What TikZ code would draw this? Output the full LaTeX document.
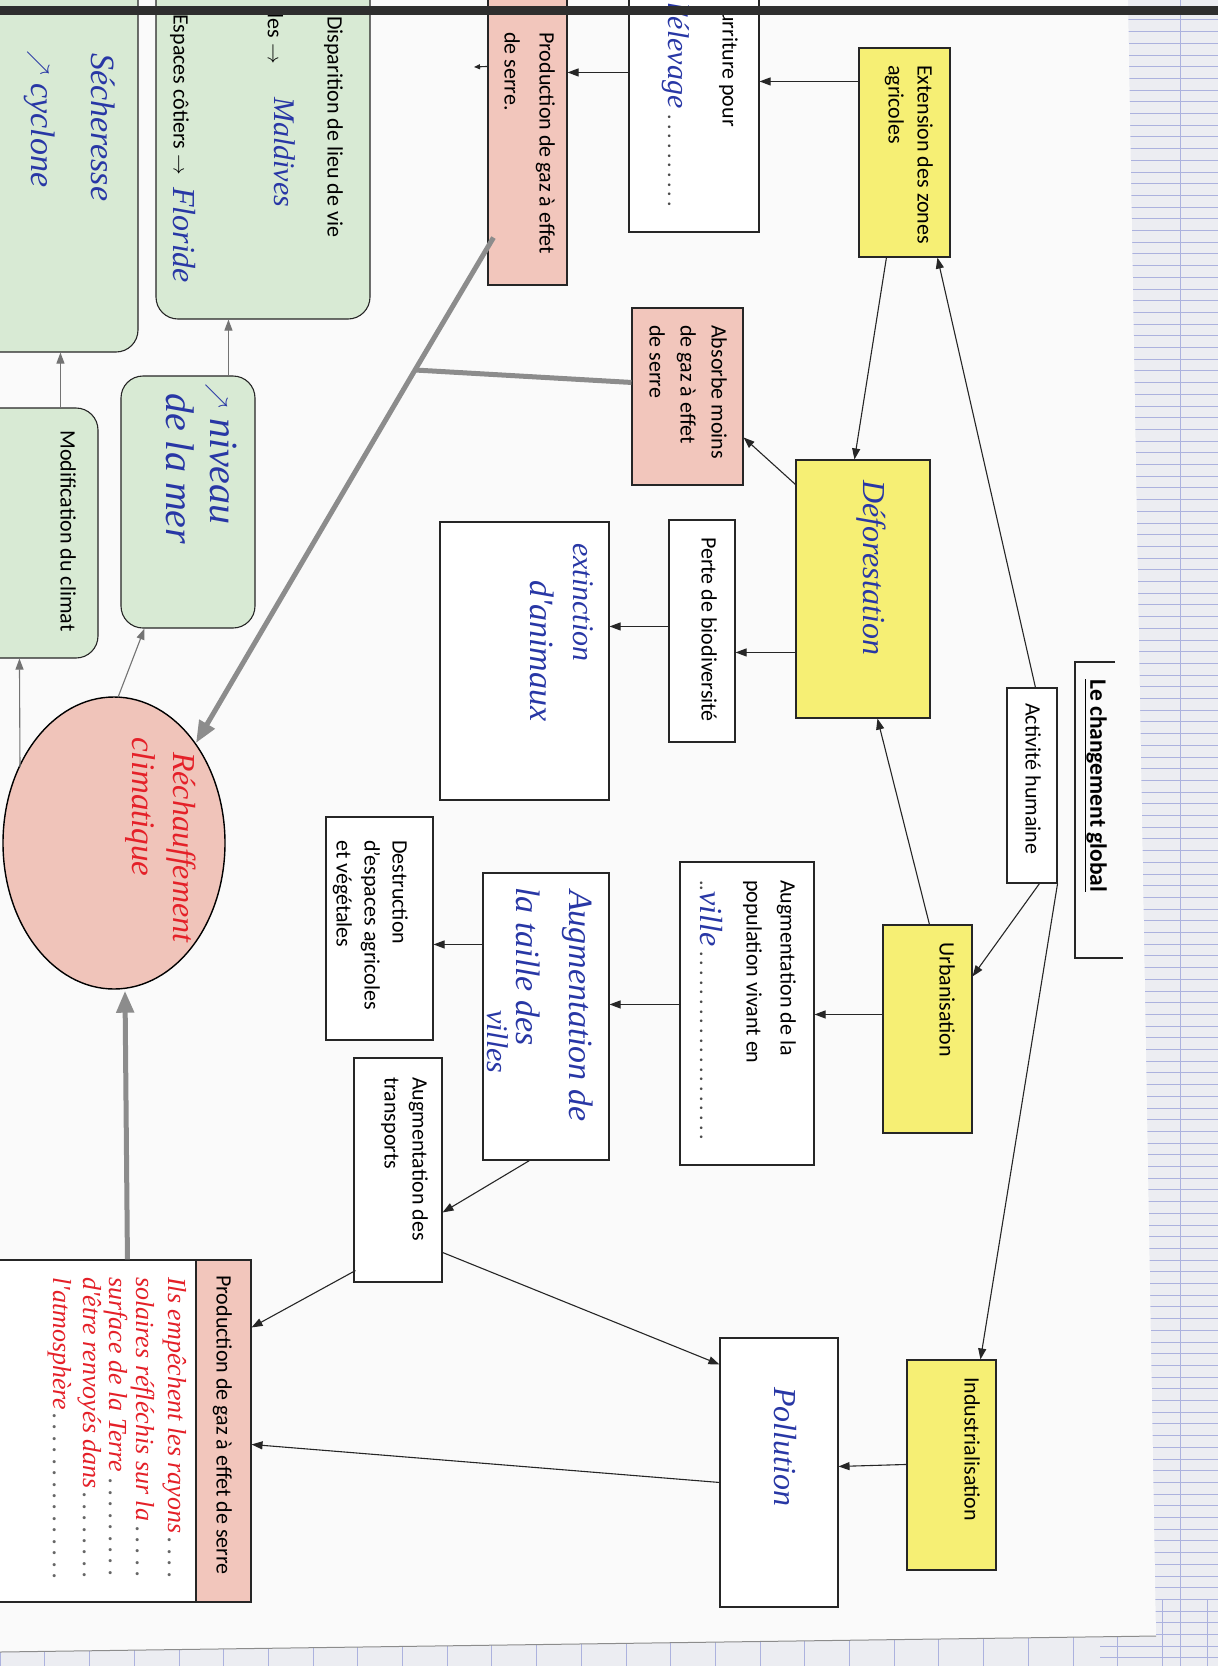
\documentclass[tikz,border=0pt]{standalone}
\usepackage{fontspec}
\setmainfont{Carlito}
\newfontfamily\handfont{Liberation Serif}
\usetikzlibrary{arrows.meta,calc,shapes.geometric}
\definecolor{cyel}{RGB}{246,239,116}
\definecolor{cpink}{RGB}{242,198,188}
\definecolor{cgreen}{RGB}{216,234,212}
\definecolor{cell}{RGB}{240,196,186}
\definecolor{cblue}{RGB}{40,55,165}
\definecolor{cred}{RGB}{228,32,40}
\definecolor{cthick}{RGB}{140,140,140}
\definecolor{cgrid}{RGB}{172,178,222}
\definecolor{cpaper}{RGB}{250,250,250}
\definecolor{cunder}{RGB}{236,237,242}
\tikzset{
  box/.style={draw=black!85, line width=1.1pt, rectangle, inner sep=0pt},
  ybox/.style={box, fill=cyel},
  pbox/.style={box, fill=cpink},
  gbox/.style={box, fill=cgreen, rounded corners=22pt},
  txt/.style={anchor=north west, rotate=-90, inner sep=0pt, align=left, font=\fontsize{22}{30}\selectfont},
  ln/.style={rotate=-90, inner sep=0pt, font=\fontsize{22}{30}\selectfont},
  hw/.style={rotate=-90, inner sep=0pt, anchor=west, text=cblue, font=\handfont\itshape\fontsize{#1}{#1}\selectfont},
  hw/.default=32,
  arr/.style={-{Triangle[length=11pt,width=8pt]}, line width=1.1pt, draw=black!85},
  garr/.style={-{Triangle[length=11pt,width=8pt]}, line width=1.1pt, draw=black!55},
  gline/.style={line width=5pt, draw=cthick},
}
\begin{document}
\begin{tikzpicture}[x=1pt,y=-1pt]
\clip (0,0) rectangle (1218,1666);
% background: notebook page under the sheet
\fill[cunder] (0,0) rectangle (1218,1666);
\foreach \k in {0,...,142} \draw[cgrid, line width=0.6pt] (1100,{8+\k*11.7}) -- (1218,{8+\k*11.7});
\draw[cgrid, line width=0.8pt] (1180,0) -- (1180,1666);
\foreach \k in {0,...,27} \draw[cgrid, line width=0.6pt] ({\k*44.7},1600) -- ({\k*44.7},1666);
\fill[cpaper] (0,0) -- (1128,0) -- (1156,1636) -- (0,1652) -- cycle;
\draw[black!45, line width=1pt] (1156,1636) -- (0,1652);

% boxes
\node[pbox, minimum width=79pt, minimum height=295pt] (prodtop) at (527.5,137.5) {};
\node[box, fill=white, minimum width=130pt, minimum height=242pt] (nourr) at (694,111) {};
\node[ybox, minimum width=91pt, minimum height=209pt] (ext) at (904.5,152.5) {};
\node[pbox, minimum width=111pt, minimum height=177pt] (absb) at (687.5,396.5) {};
\node[gbox, minimum width=214pt, minimum height=359pt] (disp) at (263,139.5) {};
\node[gbox, minimum width=178pt, minimum height=392pt] (sech) at (49,156) {};
\node[gbox, minimum width=134pt, minimum height=252pt] (niveau) at (188,502) {};
\node[gbox, minimum width=138pt, minimum height=250pt] (modif) at (29,533) {};
\node[draw=black, line width=1.4pt, fill=cell, ellipse, inner sep=0pt, minimum width=222pt, minimum height=292pt] (ell) at (114,843) {};
\node[box, fill=white, minimum width=169pt, minimum height=278pt] (extinct) at (524.5,661) {};
\node[box, fill=white, minimum width=66pt, minimum height=222pt] (perte) at (702,631) {};
\node[ybox, minimum width=134pt, minimum height=258pt] (defor) at (863,589) {};
\node[box, fill=white, minimum width=50pt, minimum height=195pt] (activ) at (1032,785.5) {};
\node[ybox, minimum width=89pt, minimum height=208pt] (urb) at (927.5,1029) {};
\node[box, fill=white, minimum width=134pt, minimum height=303pt] (augpop) at (747,1013.5) {};
\node[box, fill=white, minimum width=126pt, minimum height=287pt] (augvil) at (546,1016.5) {};
\node[box, fill=white, minimum width=107pt, minimum height=223pt] (destr) at (379.5,928.5) {};
\node[box, fill=white, minimum width=88pt, minimum height=224pt] (transp) at (398,1170) {};
\node[box, fill=white, minimum width=291pt, minimum height=342pt,
  path picture={\fill[cpink] ($(path picture bounding box.north east)+(-55,0)$) rectangle (path picture bounding box.south east);
  \draw[black!85, line width=1.1pt] ($(path picture bounding box.north east)+(-55,0)$) -- ($(path picture bounding box.south east)+(-55,0)$);}] (prodbot) at (105.5,1431) {};
\node[box, fill=white, minimum width=118pt, minimum height=269pt] (pollu) at (779,1472.5) {};
\node[ybox, minimum width=89pt, minimum height=210pt] (indus) at (951.5,1465) {};

% title frame
\draw[black!85, line width=1.1pt] (1115,662) -- (1075,662) -- (1075,958) -- (1123,958);

% thick grey connectors
\coordinate (jn) at (415,370);
\draw[gline, -{Triangle[length=22pt,width=17pt]}] ($(prodtop.south west)+(6,-48)$) -- (jn) -- ($(ell.center)+(82,-100)$);
\draw[gline] ($(absb.north west)+(0,75)$) -- (jn);
\draw[gline, -{Triangle[length=22pt,width=17pt]}] ($(prodbot.north west)+(168,0)$) -- ($(ell.south)+(11,1)$);

% thin connectors
\draw[arr] ($(ext.north west)+(0,34)$) -- ($(nourr.north east)+(0,92)$);
\draw[arr] ($(nourr.north west)+(0,83)$) -- ($(prodtop.north east)+(0,83)$);
\coordinate (stub) at (474,67);
\draw[arr, -{Triangle[length=6pt,width=5pt]}] ($(prodtop.north west)+(0,77)$) -- (stub);
\draw[arr] ($(ext.south west)+(28,0)$) -- ($(defor.north west)+(59,0)$);
\draw[arr] ($(activ.north west)+(29,0)$) -- ($(ext.south west)+(79,0)$);
\draw[arr] ($(defor.north west)+(0,25)$) -- ($(absb.north east)+(0,130)$);
\draw[arr] ($(defor.north west)+(0,193)$) -- ($(perte.north east)+(0,133)$);
\draw[arr] ($(perte.north west)+(0,107)$) -- ($(extinct.north east)+(0,105)$);
\draw[arr] ($(urb.north west)+(47,0)$) -- ($(defor.south west)+(82,0)$);
\draw[arr] ($(activ.south west)+(33,0)$) -- ($(urb.north east)+(0,52)$);
\draw[arr] (activ.south east) -- ($(indus.north west)+(74,0)$);
\draw[arr] ($(urb.north west)+(0,90)$) -- ($(augpop.north east)+(0,153)$);
\draw[arr] ($(augpop.north west)+(0,143)$) -- ($(augvil.north east)+(0,132)$);
\draw[arr] ($(augvil.north west)+(0,72)$) -- ($(destr.north east)+(0,128)$);
\draw[arr] ($(augvil.south west)+(47,0)$) -- ($(transp.north east)+(0,155)$);
\draw[arr] ($(transp.north east)+(0,195)$) -- ($(pollu.north west)+(0,27)$);
\draw[arr] ($(transp.south west)+(2,-12)$) -- ($(prodbot.north east)+(0,68)$);
\draw[arr] ($(indus.north west)+(0,105)$) -- ($(pollu.north east)+(0,129)$);
\draw[arr] ($(pollu.north west)+(0,145)$) -- ($(prodbot.north east)+(0,185)$);
\draw[garr] ($(ell.north)+(4,1)$) -- ($(niveau.south west)+(24,0)$);
\draw[garr] ($(niveau.north west)+(108,0)$) -- ($(disp.south west)+(73,0)$);
\draw[garr] ($(modif.north west)+(101,0)$) -- ($(sech.south west)+(101,0)$);
\draw[garr] ($(ell.center)+(-94,-76)$) -- ($(modif.south west)+(60,0)$);

% printed texts
\node[txt, font=\fontsize{22}{35}\selectfont] (tprodtop) at (555,32) {Production de gaz à effet\\de serre.};
\node[txt] (tnourr) at (738,10) {urriture pour};
\node[ln, anchor=base west] (tnourr2) at (668,2) {\makebox[211pt][l]{{\color{cblue}\handfont\itshape\fontsize{30}{30}\selectfont l'élevage}\color{black!70}\dotfill}};
\node[txt, font=\fontsize{22}{29}\selectfont] (text) at (933,65) {Extension des zones\\agricoles};
\node[txt, font=\fontsize{22}{31}\selectfont] (tabsb) at (727,325) {Absorbe moins\\de gaz à effet\\de serre};
\node[txt] (tdisp1) at (343,16) {Disparition de lieu de vie};
\node[txt] (tdisp2) at (286,8) {Îles $\rightarrow$};
\node[txt] (tdisp3) at (189,14) {Espaces côtiers $\rightarrow$};
\node[txt] (tmodif) at (76,430) {Modification du climat};
\node[txt] (tperte) at (717,537) {Perte de biodiversité};
\node[txt] (tactiv) at (1041,703) {Activité humaine};
\node[txt, font=\bfseries\fontsize{23.5}{28}\selectfont] (ttitle) at (1107,679) {\underline{Le changement global}};
\node[txt] (turb) at (955,942) {Urbanisation};
\node[txt, font=\fontsize{22}{34}\selectfont] (taugpop) at (796,880) {Augmentation de la\\population vivant en};
\node[ln, anchor=base west] (tville) at (700,880) {\makebox[265pt][l]{\color{black!70}..{\color{cblue}\handfont\itshape\fontsize{32}{32}\selectfont ville}\dotfill}};
\node[txt, font=\fontsize{22}{28}\selectfont] (tdestr) at (408,840) {Destruction\\d'espaces agricoles\\et végétales};
\node[txt, font=\fontsize{22}{28}\selectfont] (ttransp) at (428,1077) {Augmentation des\\transports};
\node[txt] (tprodbot) at (232,1275) {Production de gaz à effet de serre};
\node[txt] (tindus) at (980,1377) {Industrialisation};

% handwritten texts
\node[hw=32] (hdefor) at (871,480) {Déforestation};
\node[hw=30] (hext1) at (583,543) {extinction};
\node[hw=34] (hext2) at (542,580) {d'animaux};
\node[hw=34] (hav1) at (578,890) {Augmentation de};
\node[hw=34] (hav2) at (528,887) {la taille des};
\node[hw=30] (hav3) at (498,1010) {villes};
\node[hw=32] (hpol) at (785,1387) {Pollution};
\node[hw=32, text=cred] (hr1) at (181,752) {Réchauffement};
\node[hw=33, text=cred] (hr2) at (140,737) {climatique};
\node[hw=30] (hmal) at (285,97) {Maldives};
\node[hw=32] (hflo) at (184,187) {Floride};
\node[hw=34] (hsec) at (103,53) {Sécheresse};
\node[hw=34] (hcyc) at (40,50) {$\nearrow$ cyclone};
\node[hw=40] (hniv1) at (221,383) {$\nearrow$ niveau};
\node[hw=40] (hniv2) at (180,393) {de la mer};
\node[hw=26, text=cred, anchor=base west] (r1) at (168,1277) {\makebox[306pt][l]{Ils empêchent les rayons{\color{black!60}\dotfill}}};
\node[hw=26, text=cred, anchor=base west] (r2) at (136,1277) {\makebox[306pt][l]{solaires réfléchis sur la{\color{black!60}\dotfill}}};
\node[hw=26, text=cred, anchor=base west] (r3) at (109,1277) {\makebox[306pt][l]{surface de la Terre{\color{black!60}\dotfill}}};
\node[hw=26, text=cred, anchor=base west] (r4) at (83,1277) {\makebox[306pt][l]{d'être renvoyés dans{\color{black!60}\dotfill}}};
\node[hw=26, text=cred, anchor=base west] (r5) at (53,1277) {\makebox[306pt][l]{l'atmosphère{\color{black!60}\dotfill}}};

% scanner edge at the top
\fill[black!82] (0,6) rectangle (1218,15);
\end{tikzpicture}
\end{document}
